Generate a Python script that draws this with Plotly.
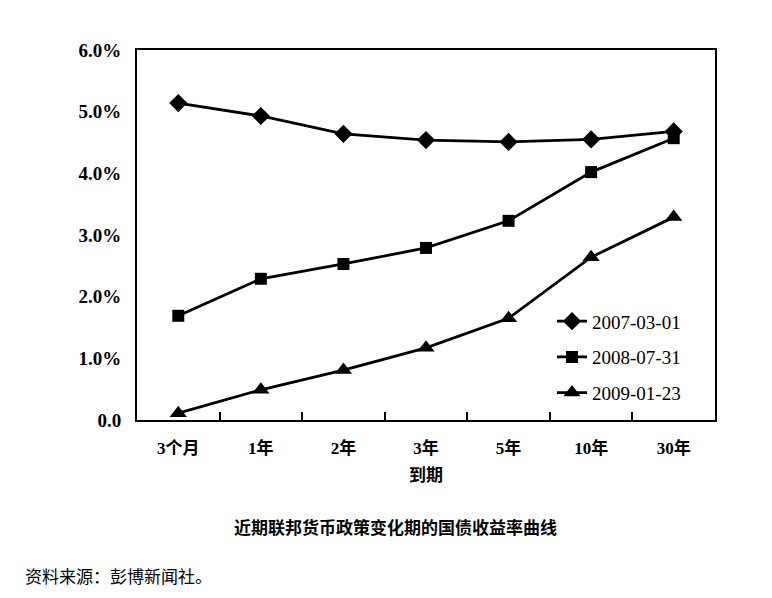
import plotly.graph_objects as go

# Treasury yield curves at three dates
maturities = ['3个月', '1年', '2年', '3年', '5年', '10年', '30年']
y_2007 = [5.14, 4.93, 4.64, 4.54, 4.51, 4.55, 4.68]
y_2008 = [1.69, 2.29, 2.53, 2.79, 3.23, 4.02, 4.57]
y_2009 = [0.11, 0.49, 0.81, 1.17, 1.65, 2.64, 3.29]
series_names = ['2007-03-01', '2008-07-31', '2009-01-23']
y_ticks = [0, 1, 2, 3, 4, 5, 6]
y_tick_labels = ['0.0', '1.0%', '2.0%', '3.0%', '4.0%', '5.0%', '6.0%']

FONT = 'Liberation Serif, Noto Sans CJK SC, serif'
CJK = 'Noto Sans CJK SC, sans-serif'

fig = go.Figure()
for name, vals, sym, size in zip(series_names, [y_2007, y_2008, y_2009],
                                 ['diamond', 'square', 'triangle-up'], [14, 12, 15]):
    fig.add_trace(go.Scatter(
        x=maturities, y=vals, name=name, mode='lines+markers', legendgroup=name,
        line={'color': 'black', 'width': 2.8},
        marker={'symbol': sym, 'size': size, 'color': 'black'}
    ))

# body has an 8px margin in the page, so offset left/top by that
fig.update_layout(
    width=772, height=598,
    margin={'l': 129, 'r': 65, 't': 42, 'b': 186},
    paper_bgcolor='white', plot_bgcolor='white',
    font={'family': FONT, 'size': 17, 'color': 'black'},
    showlegend=True,
    legend={'x': 0.718, 'y': 0.318, 'xanchor': 'left', 'yanchor': 'top',
            'bgcolor': 'rgba(0,0,0,0)', 'tracegroupgap': 8,
            'font': {'family': FONT, 'size': 19}, 'itemwidth': 30},
    xaxis={'type': 'category', 'range': [-0.5, 6.5],
           'showline': True, 'linecolor': 'black', 'linewidth': 2, 'mirror': True,
           'ticks': 'inside', 'tickson': 'boundaries', 'ticklen': 8, 'tickwidth': 1.5,
           'tickcolor': 'black', 'showgrid': False, 'ticklabelstandoff': 12,
           'tickfont': {'family': FONT, 'size': 17},
           'title': {'text': '<b>到期</b>', 'font': {'family': CJK, 'size': 17}, 'standoff': 12}},
    yaxis={'range': [0, 6], 'tickvals': y_ticks, 'ticktext': ['<b>%s</b>' % t for t in y_tick_labels],
           'showline': True, 'linecolor': 'black', 'linewidth': 2, 'mirror': True,
           'showgrid': False, 'zeroline': False, 'ticks': '', 'ticklabelstandoff': 10,
           'tickfont': {'family': FONT, 'size': 19}},
)
fig.update_xaxes(ticktext=['<b>%s</b>' % m for m in maturities], tickvals=maturities)

fig.add_annotation(text='<b>近期联邦货币政策变化期的国债收益率曲线</b>', xref='paper', yref='paper',
                   x=0.448, y=-0.288, xanchor='center', yanchor='middle', showarrow=False,
                   font={'family': CJK, 'size': 17})
fig.add_annotation(text='资料来源：彭博新闻社。', xref='paper', yref='paper',
                   x=-0.197, xanchor='left', y=-0.42, yanchor='middle', showarrow=False,
                   font={'family': CJK, 'size': 17})

fig.write_html('out.html')
